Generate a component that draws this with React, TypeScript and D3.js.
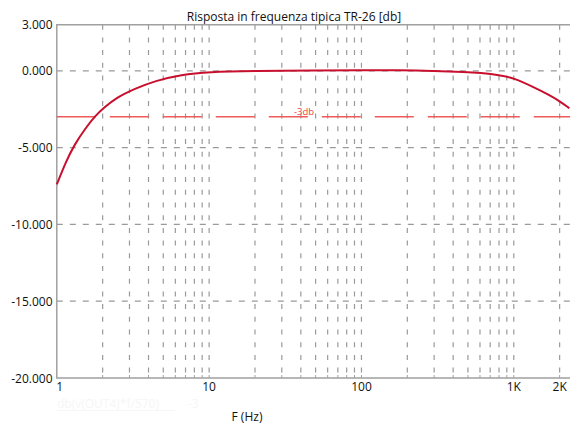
import React, { useEffect, useRef } from 'react';
import * as d3 from 'd3';

// frequency (Hz) and level (dB)
const freqs = [1, 1.149, 1.3, 1.554, 1.788, 2.047, 2.445, 3.3, 4.4, 6.6, 9.8, 20, 50, 100, 178, 293, 487, 600, 806, 1011, 1327, 1714, 2000, 2318];
const levels = [-7.4, -5.92, -4.83, -3.7, -2.93, -2.4, -1.76, -1.14, -0.66, -0.25, -0.08, -0.01, 0.02, 0.04, 0.04, 0.0, -0.08, -0.14, -0.27, -0.49, -1.03, -1.58, -1.98, -2.44];

const yTicks = [3, 0, -5, -10, -15, -20];
const yGrid = [0, -5, -10, -15];
const xGrid = [2, 3, 4, 5, 6, 7, 8, 9, 10, 20, 30, 40, 50, 60, 70, 80, 90, 100, 200, 300, 400, 500, 600, 700, 800, 900, 1000, 2000];
const xLabels = [
  { v: 1, t: '1' },
  { v: 10, t: '10' },
  { v: 100, t: '100' },
  { v: 1000, t: '1K' },
  { v: 2000, t: '2K' },
];
const refLevel = -3;

const App = () => {
  const ref = useRef<SVGSVGElement>(null);

  useEffect(() => {
    const width = 570;
    const height = 425;
    const left = 56.8;
    const top = 24.7;
    const bottom = 378;

    const svg = d3.select(ref.current);
    svg.selectAll('*').remove();
    svg.attr('width', width).attr('height', height);

    const x = d3.scaleLog().domain([1, 2318]).range([left, 569.4]);
    const y = d3.scaleLinear().domain([-20, 3]).range([bottom, top]);

    const font = '"Open Sans", "DejaVu Sans", sans-serif';

    // vertical grid
    svg.append('g')
      .selectAll('line')
      .data(xGrid)
      .join('line')
      .attr('x1', d => x(d))
      .attr('x2', d => x(d))
      .attr('y1', top)
      .attr('y2', bottom)
      .attr('stroke', '#9a9a9a')
      .attr('stroke-width', 1.2)
      .attr('stroke-dasharray', '5,7.7');

    // horizontal grid
    svg.append('g')
      .selectAll('line')
      .data(yGrid)
      .join('line')
      .attr('x1', left)
      .attr('x2', width)
      .attr('y1', d => y(d))
      .attr('y2', d => y(d))
      .attr('stroke', '#9a9a9a')
      .attr('stroke-width', 1.2)
      .attr('stroke-dasharray', '6,7');

    // frame
    svg.append('path')
      .attr('d', `M${width},${top}H${left}V${bottom}H${width}`)
      .attr('fill', 'none')
      .attr('stroke', '#a0a0a0')
      .attr('stroke-width', 1.5);

    // small ticks on the bottom axis
    svg.append('g')
      .selectAll('line')
      .data(xGrid)
      .join('line')
      .attr('x1', d => x(d))
      .attr('x2', d => x(d))
      .attr('y1', bottom - 3)
      .attr('y2', bottom)
      .attr('stroke', '#a0a0a0');

    // -3 dB reference
    svg.append('line')
      .attr('x1', left)
      .attr('x2', width)
      .attr('y1', y(refLevel))
      .attr('y2', y(refLevel))
      .attr('stroke', '#f05a5a')
      .attr('stroke-width', 1.5)
      .attr('stroke-dasharray', '39,14');

    svg.append('text')
      .attr('x', 304)
      .attr('y', y(refLevel) - 1.5)
      .attr('text-anchor', 'middle')
      .attr('font-family', font)
      .attr('font-size', 9.5)
      .attr('fill', '#f03a3a')
      .text('-3db');

    // response curve
    const line = d3.line<number>()
      .x((_, i) => x(freqs[i]))
      .y(d => y(d))
      .curve(d3.curveBasis);

    svg.append('path')
      .datum(levels)
      .attr('d', line)
      .attr('fill', 'none')
      .attr('stroke', '#c8102e')
      .attr('stroke-width', 2);

    // y labels
    svg.append('g')
      .selectAll('text')
      .data(yTicks)
      .join('text')
      .attr('x', 52.5)
      .attr('y', d => y(d) + 4.5)
      .attr('text-anchor', 'end')
      .attr('font-family', font)
      .attr('font-size', 12)
      .attr('fill', '#111')
      .text(d => d.toFixed(3));

    // x labels
    svg.append('g')
      .selectAll('text')
      .data(xLabels)
      .join('text')
      .attr('x', d => x(d.v) + (d.v === 1 ? 3 : 0))
      .attr('y', 391)
      .attr('text-anchor', 'middle')
      .attr('font-family', font)
      .attr('font-size', 12)
      .attr('fill', '#111')
      .text(d => d.t);

    // title
    svg.append('text')
      .attr('x', 294)
      .attr('y', 20.5)
      .attr('text-anchor', 'middle')
      .attr('font-family', font)
      .attr('font-size', 12)
      .attr('fill', '#111')
      .text('Risposta in frequenza tipica TR-26 [db]');

    // axis title
    svg.append('text')
      .attr('x', 247)
      .attr('y', 421)
      .attr('text-anchor', 'middle')
      .attr('font-family', font)
      .attr('font-size', 12)
      .attr('fill', '#111')
      .text('F (Hz)');

    // faint legend
    svg.append('text')
      .attr('x', 57)
      .attr('y', 408)
      .attr('font-family', font)
      .attr('font-size', 12)
      .attr('fill', '#f6f6f6')
      .text('db(v(OUT4)*f/570)');
    svg.append('line')
      .attr('x1', 57)
      .attr('x2', 175)
      .attr('y1', 410.5)
      .attr('y2', 410.5)
      .attr('stroke', '#f6f6f6');
    svg.append('text')
      .attr('x', 188)
      .attr('y', 408)
      .attr('font-family', font)
      .attr('font-size', 12)
      .attr('fill', '#f6f6f6')
      .text('-3');
  }, []);

  return (
    <svg ref={ref} style={{ position: 'absolute', left: 0, top: 0, display: 'block' }}></svg>
  );
};

export default App;
